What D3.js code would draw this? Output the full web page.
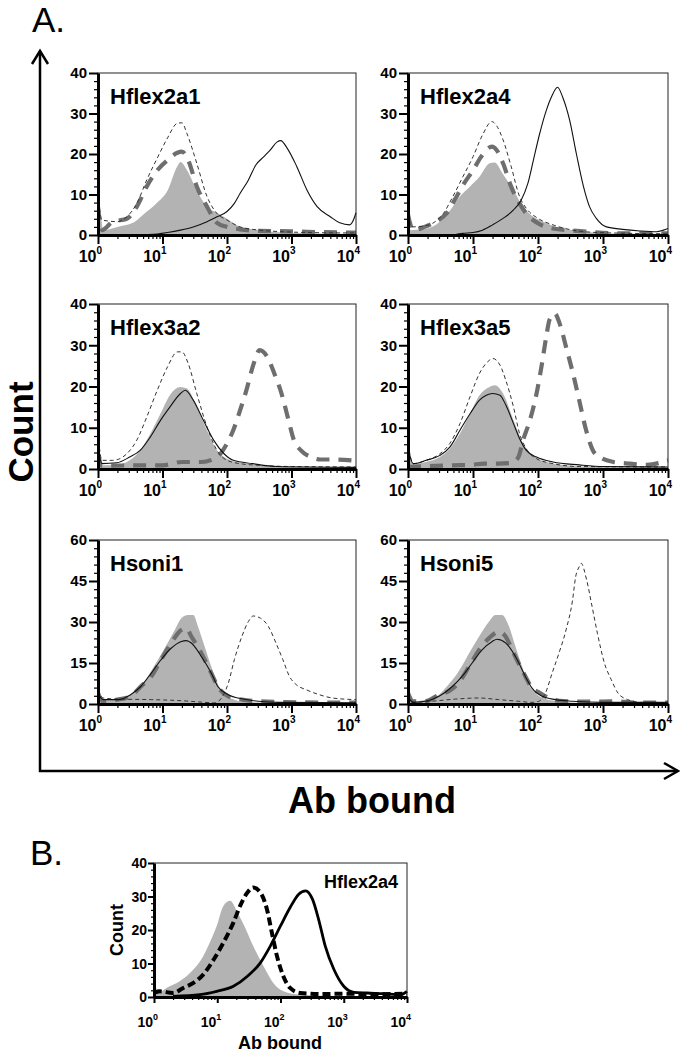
<!DOCTYPE html>
<html><head><meta charset="utf-8">
<script src="https://cdn.jsdelivr.net/npm/d3@7/dist/d3.min.js"></script>
<style>html,body{margin:0;padding:0;background:#fff;}svg{display:block;}</style>
</head><body><div id="chart"></div>
<script>
// ---------- DATA (x = Ab bound, y = Count) ----------
const xTickValues = [1, 10, 100, 1000, 10000];
const xTickExponents = ["0", "1", "2", "3", "4"];
const yTicks40 = [0, 10, 20, 30, 40];
const yTicks60 = [0, 15, 30, 45, 60];
const panelTitles = ["Hflex2a1", "Hflex2a4", "Hflex3a2", "Hflex3a5", "Hsoni1", "Hsoni5"];

// Hflex2a1
const h2a1Fill = [[1,6],[1.1,5],[1.2,1.2],[2,2],[3.5,3],[5,5],[8.3,8],[12,11],[17,17],[19,18],[24,16],[34,11],[49,7],[70,5.5],[100,4],[160,2],[320,1.2],[760,0.6],[2000,0.4],[10000,0.3]];
const h2a1Thin = [[1,10],[1.15,3.7],[2,3.3],[2.8,4.5],[4,7.8],[5.7,13.6],[8.3,19],[12,24],[17,27.6],[20,27.7],[24,25],[34,17.7],[49,9.5],[70,5.3],[100,3.7],[160,2],[320,1.2],[760,0.8],[2000,0.6],[10000,0.5]];
const h2a1Thick = [[1,7],[1.15,1.2],[1.7,3.3],[2.8,4],[4,7],[5.7,12],[8.3,16],[12,18.5],[17,20.3],[20,20.6],[25,18.5],[34,12],[49,7],[70,3],[100,2],[160,1.4],[320,1],[1000,0.9],[3000,0.7],[10000,0.6]];
const h2a1Solid = [[4,0],[8.3,0.25],[12,0.6],[19,1.2],[30,2],[49,3.3],[70,4.5],[100,5.8],[130,7.8],[160,10.3],[215,13.6],[280,17.3],[370,19.3],[470,21],[600,23],[680,23.3],[860,21.4],[1200,17],[1750,11],[2500,7],[4000,4.5],[5600,3],[8000,2.5],[9000,3.5],[10000,5.5]];

// Hflex2a4
const h2a4Fill = [[1,5],[1.1,1.2],[1.7,1.4],[3.1,3.3],[4.4,6],[6.3,9.5],[9,12],[12.6,14.4],[18,17.7],[21.5,17.9],[29,15],[42,11],[59,7],[85,4.5],[120,3.3],[190,2],[345,1.2],[700,0.6],[2000,0.3],[10000,0.3]];
const h2a4Thin = [[1,8.6],[1.1,2],[1.7,2.2],[2.4,2.9],[3.5,5.3],[4.9,9.5],[7,14.4],[10,19.3],[14,24.7],[19.5,28],[23,27],[29,23.5],[38.5,17],[52,9.5],[66,6.6],[100,4.1],[170,2.5],[345,1.2],[880,0.6],[10000,0.3]];
const h2a4Thick = [[1,5],[1.2,1.2],[1.8,2],[2.7,3.3],[3.9,5.3],[5.2,8.6],[7,12.3],[10,16],[14,19.8],[19.5,21.8],[23,21],[29,17.7],[38.5,12],[52,7.8],[66,5.3],[100,2.9],[170,1.6],[345,1.1],[700,0.7],[2000,0.4],[10000,0.4]];
const h2a4Solid = [[5,0],[7,0.4],[10,0.6],[14,1.2],[20,2.5],[29,4.1],[42,6.2],[55,8.6],[70,12.8],[85,18.5],[106,25],[135,30.9],[160,34],[200,36.5],[240,34],[306,28.4],[390,20],[500,12],[620,7],[790,4.1],[1130,2],[2000,1.4],[3700,1],[6700,0.8],[8500,1.2],[10000,1.6]];

// Hflex3a2
const h3a2Fill = [[1,6],[1.1,0.9],[1.95,1],[3.1,2.1],[4.5,4.5],[6.5,8.6],[9.3,13.4],[13,17.9],[19,19.9],[24,19.5],[34,15],[49,9.4],[70,4.5],[100,2.5],[160,1.5],[320,0.9],[760,0.5],[10000,0.4]];
const h3a2Thin = [[1,8.6],[1.15,2.1],[1.7,2.1],[2.8,3.7],[4,7],[5.7,12.6],[8.3,19.1],[12,24.8],[17,28.4],[20,28.4],[25,25.6],[34,18.3],[49,10.2],[70,4.5],[100,2.1],[160,1.3],[320,0.9],[1000,0.6],[10000,0.5]];
const h3a2Thick = [[1,3.7],[1.15,0.8],[5,0.9],[10,0.9],[20,1.7],[40,1.7],[70,2.9],[100,6.2],[125,9.4],[160,14.3],[200,19.1],[260,25.6],[320,28.8],[420,27.2],[540,23.2],[700,18.3],[900,11.8],[1090,7],[1400,4.5],[2000,2.9],[2800,2.3],[4500,2.3],[10000,2]];
const h3a2Solid = [[1,5.3],[1.15,1.3],[1.95,1.5],[3.1,2.9],[4.5,4.5],[6.5,7.8],[9.3,11.8],[13,15],[19,18.3],[22.5,19.1],[30,16.7],[43,11.8],[62,7],[90,3.7],[125,2.1],[250,1.3],[600,0.6],[10000,0.4]];

// Hflex3a5
const h3a5Fill = [[1,6.2],[1.2,1.3],[1.9,1.7],[3.1,2.9],[4.4,4.9],[6.3,8.6],[9,13.4],[12.6,17.9],[18,19.9],[21.5,20.3],[29,18.3],[42,11.8],[59,6.2],[85,3.3],[134,1.7],[270,0.9],[700,0.5],[10000,0.4]];
const h3a5Thin = [[1,6.2],[1.2,1.3],[1.9,2.1],[3.1,3.7],[4.4,6.2],[6.3,11],[9,17.5],[12.6,23.2],[18,26.4],[20,26.8],[26,25.2],[32,21.5],[42,15],[52,8.6],[66,4.9],[95,2.5],[170,1.3],[430,0.6],[10000,0.5]];
const h3a5Thick = [[1,0.5],[5,0.9],[9,1],[15,1.3],[25,1.3],[40,1.5],[50,2.9],[59,7],[75,11.8],[95,18.3],[113,24.8],[134,32.1],[150,36.1],[180,37.7],[215,35.3],[270,29.6],[345,23.2],[430,16.7],[550,9.4],[700,4.5],[890,2.9],[1450,1.7],[2600,1.3],[4700,1],[10000,2.1]];
const h3a5Solid = [[1,5.3],[1.2,1.3],[1.9,2.1],[3.1,3.3],[4.4,5.3],[6.3,9.4],[9,13.4],[12.6,16.7],[16,17.9],[20,18.3],[26,17.9],[32,15.5],[42,11],[52,7.4],[66,4.5],[95,2.9],[170,1.7],[430,1],[1000,0.6],[10000,0.5]];

// Hsoni1
const hs1Fill = [[1,7.7],[1.1,1.6],[1.8,1.6],[2.9,2.8],[4.1,5.2],[5.9,10.1],[8.5,16.2],[12,22.3],[15.5,27.1],[19.6,31.4],[25,32.6],[30,32.6],[35.6,28.3],[45,21],[57,13.7],[75,6.4],[93,3.4],[130,1.6],[215,0.6],[10000,0.4]];
const hs1Thick = [[1,4],[1.2,1],[2,1.6],[3.2,2.8],[4.6,6.4],[6.7,10.1],[9.5,16.2],[13.6,22.3],[19.6,27.1],[23.4,27.7],[28,24.7],[40,18.6],[57,11.3],[72,6.4],[105,2.8],[170,1.6],[310,1],[630,0.7],[1160,0.6],[10000,0.5]];
const hs1Solid = [[1,4],[1.2,1.6],[2,1.6],[3.2,3.4],[4.6,6.4],[6.7,11.3],[9.5,16.2],[13.6,20.4],[19.6,22.9],[23.4,23.2],[28,22.3],[40,17.4],[57,11.3],[72,6.4],[105,3.4],[170,1.9],[310,1],[630,0.6],[10000,0.4]];
const hs1Thin = [[1,5.2],[1.2,2.2],[2,1.8],[6.7,1.6],[19.6,1.2],[40,0.7],[65,0.4],[82,2.2],[105,7.7],[130,16.2],[170,24.7],[215,30.2],[255,32.2],[330,31.4],[440,28.3],[575,22.3],[735,16.2],[930,10.1],[1180,7.1],[1700,5.2],[2700,3.4],[4300,2.2],[10000,1.6]];

// Hsoni5
const hs5Fill = [[1,5.8],[1.15,1],[1.85,1.6],[3,3.4],[4.2,7.1],[6,11.9],[8.7,18.6],[12.4,24.7],[17.7,30.2],[22,32.6],[28,32.6],[36,28.3],[45,21],[57,13.7],[72,7.1],[91,4],[130,1.8],[210,1],[500,0.4],[10000,0.4]];
const hs5Thick = [[1,4],[1.2,1],[1.85,1],[3,3.4],[4.2,4.6],[6,7.7],[8.7,13.7],[12.4,19.8],[17.7,24.1],[25,26.5],[31.7,24.7],[40,19.8],[50,15],[64,10.1],[81,5.8],[103,4.3],[130,2.8],[210,1.2],[430,0.9],[1000,0.9],[1620,1],[3000,0.5],[10000,0.5]];
const hs5Solid = [[1,2.8],[1.2,0.6],[1.85,1],[3,2.8],[4.8,6.4],[6.8,10.1],[9.7,15],[13.8,19.8],[19.8,22.9],[23.5,23.7],[32,22.3],[45,17.4],[64,10.1],[81,5.8],[116,2.8],[185,1.6],[340,1],[1000,0.6],[10000,0.6]];
const hs5Thin = [[1,2.8],[1.15,0.6],[2.3,1],[5.4,1.8],[12.4,2.2],[25,1.6],[50,1],[81,0.6],[103,1],[130,4],[165,11.3],[210,18.6],[270,27.1],[340,38],[380,46.6],[430,50.2],[460,51.5],[560,45.4],[680,35.6],[820,25.9],[1050,15],[1340,8.9],[1700,4],[2400,1.6],[3800,0.6],[10000,0.4]];

// Panel B (Hflex2a4)
const bFill = [[1,6.7],[1.16,1.2],[1.57,2.7],[2.55,4.7],[4.2,8.2],[6,12.2],[7.6,16.2],[9.8,21.2],[12.5,27.2],[16,28.7],[20.3,25.7],[26,21.7],[37,15.2],[54,9.2],[77,4.2],[111,1.7],[205,0.7],[1000,0.3],[10000,0.3]];
const bDash = [[1,1.2],[1.23,1.7],[2,1.2],[2.9,2.7],[4.2,4.2],[6,6.7],[8.8,11.2],[12.5,16.2],[18,22.2],[23,27.2],[30,31.2],[37,32.7],[48,31.2],[61,26.2],[73,19.2],[88,12.2],[111,6.2],[142,2.7],[205,1.2],[500,0.9],[1000,1],[3000,0.8],[10000,1]];
const bSolid = [[2,0.2],[5.3,0.7],[9.8,1.7],[18,3.2],[30,6.2],[48,10.2],[69,15.2],[100,21.2],[142,26.7],[194,30.7],[250,31.7],[320,29.2],[400,23.2],[510,15.2],[700,8.2],[1000,3.2],[1450,1.4],[2350,1.2],[4300,1],[7900,0.7],[10000,1.7]];

// ---------- DRAWING ----------
const FONT = "Arial, 'Liberation Sans', Helvetica, sans-serif";
const svg = d3.select("#chart").append("svg").attr("width", 680).attr("height", 1053)
  .style("font-family", FONT);
svg.append("rect").attr("width", 680).attr("height", 1053).attr("fill", "#fff");

const COLS = [[98, 356], [408, 668]];
const ROWS = [[73, 235], [304, 469], [540, 704]];

const panelsA = [
  {title: panelTitles[0], col: 0, row: 0, yTicks: yTicks40, minorStep: 2, fill: h2a1Fill, thick: h2a1Thick, thin: h2a1Thin, solid: h2a1Solid},
  {title: panelTitles[1], col: 1, row: 0, yTicks: yTicks40, minorStep: 2, fill: h2a4Fill, thick: h2a4Thick, thin: h2a4Thin, solid: h2a4Solid},
  {title: panelTitles[2], col: 0, row: 1, yTicks: yTicks40, minorStep: 2, fill: h3a2Fill, thick: h3a2Thick, thin: h3a2Thin, solid: h3a2Solid},
  {title: panelTitles[3], col: 1, row: 1, yTicks: yTicks40, minorStep: 2, fill: h3a5Fill, thick: h3a5Thick, thin: h3a5Thin, solid: h3a5Solid},
  {title: panelTitles[4], col: 0, row: 2, yTicks: yTicks60, minorStep: 3, fill: hs1Fill, thick: hs1Thick, thin: hs1Thin, solid: hs1Solid},
  {title: panelTitles[5], col: 1, row: 2, yTicks: yTicks60, minorStep: 3, fill: hs5Fill, thick: hs5Thick, thin: hs5Thin, solid: hs5Solid}
];

const minorX = [];
[1, 10, 100, 1000].forEach(d => { for (let k = 2; k <= 9; k++) minorX.push(d * k); });

let clipId = 0;
function drawFrame(g, x, y, yTicks, minorStep, o) {
  const [x0, x1] = x.range();
  const [y1, y0] = y.range();
  g.append("rect").attr("x", x0).attr("y", y0).attr("width", x1 - x0).attr("height", y1 - y0)
    .attr("fill", "none").attr("stroke", "#222").attr("stroke-width", 1);
  const yMax = yTicks[yTicks.length - 1];
  const yMinor = d3.range(0, yMax + 0.001, minorStep).filter(v => !yTicks.includes(v));
  g.append("g").attr("transform", `translate(${x0},0)`)
    .call(d3.axisLeft(y).tickValues(yMinor).tickSize(o.minorLen).tickFormat(""))
    .call(a => a.select(".domain").remove())
    .call(a => a.selectAll("line").attr("stroke-width", 1.2));
  g.append("g").attr("transform", `translate(${x0},0)`)
    .call(d3.axisLeft(y).tickValues(yTicks).tickSize(o.majorLen).tickSizeOuter(0).tickFormat(""))
    .call(a => a.select(".domain").attr("stroke-width", 3))
    .call(a => a.selectAll("line").attr("stroke-width", 2));
  g.append("g").attr("transform", `translate(0,${y1})`)
    .call(d3.axisBottom(x).tickValues(minorX).tickSize(o.minorLen).tickFormat(""))
    .call(a => a.select(".domain").remove())
    .call(a => a.selectAll("line").attr("stroke-width", 1.2));
  g.append("g").attr("transform", `translate(0,${y1})`)
    .call(d3.axisBottom(x).tickValues(xTickValues).tickSize(o.majorLen).tickSizeOuter(0).tickFormat(""))
    .call(a => a.select(".domain").attr("stroke-width", 3))
    .call(a => a.selectAll("line").attr("stroke-width", 2));
  g.selectAll(".ylab").data(yTicks).join("text")
    .attr("x", x0 - o.yLabGap).attr("y", d => y(d)).attr("dy", "0.36em")
    .attr("text-anchor", "end").attr("font-weight", "bold").attr("font-size", o.yLabSize)
    .text(d => d);
  const xl = g.selectAll(".xlab").data(xTickValues).join("text")
    .attr("x", d => x(d) + o.xLabShift).attr("y", y1 + o.xLabDy)
    .attr("text-anchor", "end").attr("font-weight", "bold").attr("font-size", o.xLabSize);
  xl.append("tspan").text("10");
  xl.append("tspan").attr("dy", -o.supRaise).attr("font-size", o.supSize)
    .text((d, i) => xTickExponents[i]);
}

function clipFor(g, x, y) {
  const id = "clip" + (clipId++);
  const [x0, x1] = x.range();
  const [y1, y0] = y.range();
  g.append("clipPath").attr("id", id).append("rect")
    .attr("x", x0).attr("y", y0 - 2).attr("width", x1 - x0 + 1).attr("height", y1 - y0 + 2);
  return g.append("g").attr("clip-path", `url(#${id})`);
}

panelsA.forEach(p => {
  const g = svg.append("g");
  const [x0, x1] = COLS[p.col];
  const [y0, y1] = ROWS[p.row];
  const yMax = p.yTicks[p.yTicks.length - 1];
  const x = d3.scaleLog().domain([1, 10000]).range([x0, x1]);
  const y = d3.scaleLinear().domain([0, yMax]).range([y1, y0]);
  const line = d3.line().x(d => x(d[0])).y(d => y(d[1])).curve(d3.curveMonotoneX);
  const area = d3.area().x(d => x(d[0])).y0(y(0)).y1(d => y(d[1])).curve(d3.curveMonotoneX);
  const c = clipFor(g, x, y);
  c.append("path").datum(p.fill).attr("d", area).attr("fill", "#b3b3b3");
  c.append("path").datum(p.thick).attr("d", line).attr("fill", "none")
    .attr("stroke", "#6e6e6e").attr("stroke-width", 4.2).attr("stroke-dasharray", "13,9");
  c.append("path").datum(p.thin).attr("d", line).attr("fill", "none")
    .attr("stroke", "#333").attr("stroke-width", 1).attr("stroke-dasharray", "4,3");
  c.append("path").datum(p.solid).attr("d", line).attr("fill", "none")
    .attr("stroke", "#111").attr("stroke-width", 1.1);
  drawFrame(g, x, y, p.yTicks, p.minorStep,
    {minorLen: 4, majorLen: 9, yLabGap: 11, yLabSize: 15, xLabShift: 4, xLabDy: 27, xLabSize: 16, supSize: 10, supRaise: 8});
  g.append("text").attr("x", x0 + 12).attr("y", y0 + 31)
    .attr("font-weight", "bold").attr("font-size", 22).text(p.title);
});

// Panel B
(function () {
  const g = svg.append("g");
  const x = d3.scaleLog().domain([1, 10000]).range([154, 407]);
  const y = d3.scaleLinear().domain([0, 40]).range([997, 863]);
  const line = d3.line().x(d => x(d[0])).y(d => y(d[1])).curve(d3.curveMonotoneX);
  const area = d3.area().x(d => x(d[0])).y0(y(0)).y1(d => y(d[1])).curve(d3.curveMonotoneX);
  const c = clipFor(g, x, y);
  c.append("path").datum(bFill).attr("d", area).attr("fill", "#b3b3b3");
  c.append("path").datum(bDash).attr("d", line).attr("fill", "none")
    .attr("stroke", "#000").attr("stroke-width", 4).attr("stroke-dasharray", "8,4");
  c.append("path").datum(bSolid).attr("d", line).attr("fill", "none")
    .attr("stroke", "#000").attr("stroke-width", 2.8);
  drawFrame(g, x, y, yTicks40, 2,
    {minorLen: 3, majorLen: 6, yLabGap: 7, yLabSize: 14, xLabShift: 4, xLabDy: 30, xLabSize: 14, supSize: 9, supRaise: 7});
  g.append("text").attr("x", 398).attr("y", 888).attr("text-anchor", "end")
    .attr("font-weight", "bold").attr("font-size", 18).text(panelTitles[1]);
  g.append("text").attr("transform", "translate(123,930) rotate(-90)").attr("text-anchor", "middle")
    .attr("font-weight", "bold").attr("font-size", 18).text("Count");
  g.append("text").attr("x", 280).attr("y", 1049).attr("text-anchor", "middle")
    .attr("font-weight", "bold").attr("font-size", 18).text("Ab bound");
})();

// Big arrows and labels for panel A
const ax = svg.append("g").attr("fill", "none").attr("stroke", "#000").attr("stroke-width", 2.5)
  .attr("stroke-linejoin", "miter");
ax.append("path").attr("d", "M40,51 L40,771 L678,771");
ax.append("path").attr("d", "M32,64 L40,51 L48,64");
ax.append("path").attr("d", "M664,763 L678,771 L664,779");

svg.append("text").attr("transform", "translate(33,432) rotate(-90)").attr("text-anchor", "middle")
  .attr("font-weight", "bold").attr("font-size", 35).text("Count");
svg.append("text").attr("x", 372).attr("y", 813).attr("text-anchor", "middle")
  .attr("font-weight", "bold").attr("font-size", 36).text("Ab bound");
svg.append("text").attr("x", 32).attr("y", 32).attr("font-size", 35).text("A.");
svg.append("text").attr("x", 30).attr("y", 865).attr("font-size", 35).text("B.");
</script></body></html>
